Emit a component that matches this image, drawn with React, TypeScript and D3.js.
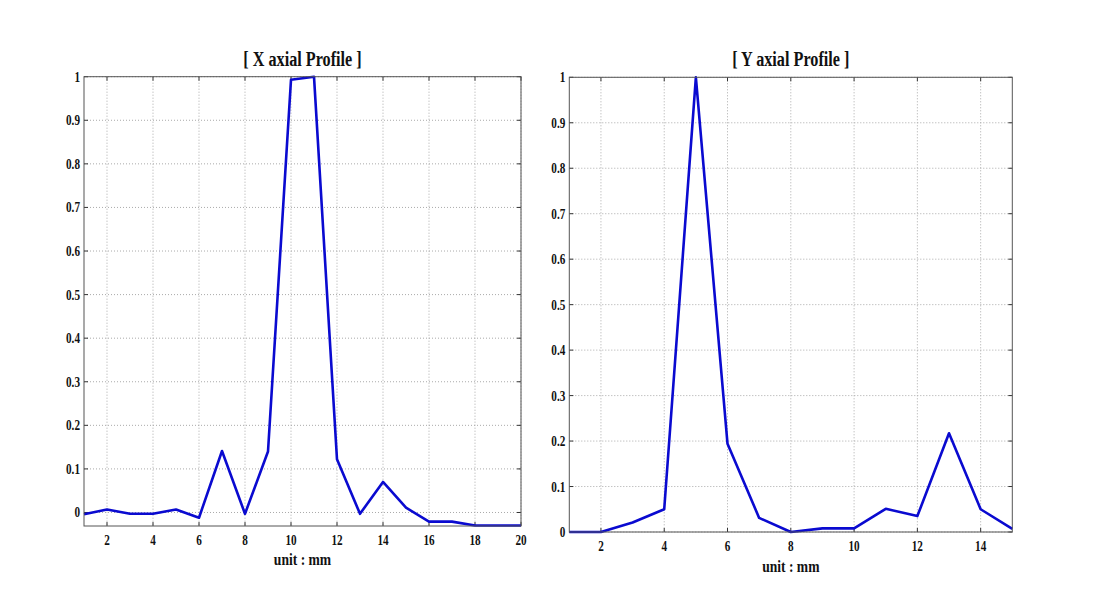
import { useEffect, useRef } from "react";
import * as d3 from "d3";

// X axial profile (unit: mm)
const xProfileMm = [1, 2, 3, 4, 5, 6, 7, 8, 9, 10, 11, 12, 13, 14, 15, 16, 17, 18, 19, 20];
const xProfileValues = [
  -0.004, 0.007, -0.003, -0.003, 0.007, -0.012, 0.141, -0.003, 0.14, 0.993,
  1.0, 0.122, -0.003, 0.07, 0.011, -0.021, -0.021, -0.03, -0.03, -0.03,
];

// Y axial profile (unit: mm)
const yProfileMm = [1, 2, 3, 4, 5, 6, 7, 8, 9, 10, 11, 12, 13, 14, 15];
const yProfileValues = [
  0, 0, 0.021, 0.05, 1.0, 0.194, 0.031, 0, 0.008, 0.008, 0.051, 0.035, 0.217, 0.05, 0.007,
];

const xTicksLeft = [2, 4, 6, 8, 10, 12, 14, 16, 18, 20];
const xTicksRight = [2, 4, 6, 8, 10, 12, 14];
const yTicks = [0, 0.1, 0.2, 0.3, 0.4, 0.5, 0.6, 0.7, 0.8, 0.9, 1];

const FONT = "'Liberation Serif', 'Times New Roman', serif";

const drawPanel = (svg, opts) => {
  const { left, right, top, bottom, xDomain, yDomain, xs, ys, xTicks, title, titleY, xTickY, xLabelY } = opts;
  const x = d3.scaleLinear().domain(xDomain).range([left, right]);
  const y = d3.scaleLinear().domain(yDomain).range([bottom, top]);
  const g = svg.append("g");

  g.append("rect")
    .attr("x", left)
    .attr("y", top)
    .attr("width", right - left)
    .attr("height", bottom - top)
    .attr("fill", "#fff");

  // dotted grid
  g.selectAll(".gx")
    .data(xTicks)
    .enter()
    .append("line")
    .attr("x1", (d) => x(d))
    .attr("x2", (d) => x(d))
    .attr("y1", top)
    .attr("y2", bottom)
    .attr("stroke", "#aaa")
    .attr("stroke-width", 1)
    .attr("stroke-dasharray", "1,2");
  g.selectAll(".gy")
    .data(yTicks.filter((d) => d >= yDomain[0]))
    .enter()
    .append("line")
    .attr("x1", left)
    .attr("x2", right)
    .attr("y1", (d) => y(d))
    .attr("y2", (d) => y(d))
    .attr("stroke", "#aaa")
    .attr("stroke-width", 1)
    .attr("stroke-dasharray", "1,2");

  // inward ticks
  const tl = 4;
  xTicks.forEach((d) => {
    g.append("line").attr("x1", x(d)).attr("x2", x(d)).attr("y1", bottom).attr("y2", bottom - tl).attr("stroke", "#333");
    g.append("line").attr("x1", x(d)).attr("x2", x(d)).attr("y1", top).attr("y2", top + tl).attr("stroke", "#333");
  });
  yTicks.forEach((d) => {
    g.append("line").attr("x1", left).attr("x2", left + tl).attr("y1", y(d)).attr("y2", y(d)).attr("stroke", "#333");
    g.append("line").attr("x1", right).attr("x2", right - tl).attr("y1", y(d)).attr("y2", y(d)).attr("stroke", "#333");
  });

  const line = d3
    .line()
    .x((d) => x(d[0]))
    .y((d) => y(d[1]));
  g.append("path")
    .datum(xs.map((v, i) => [v, ys[i]]))
    .attr("d", line)
    .attr("fill", "none")
    .attr("stroke", "#0a0ad0")
    .attr("stroke-width", 2.6)
    .attr("stroke-linejoin", "round");

  // box
  g.append("rect")
    .attr("x", left)
    .attr("y", top)
    .attr("width", right - left)
    .attr("height", bottom - top)
    .attr("fill", "none")
    .attr("stroke", "#555")
    .attr("stroke-width", 1);

  // Matlab-style condensed bold serif text
  const label = (tx, ty, text, size, anchor, sx) => {
    g.append("text")
      .attr("transform", `translate(${tx},${ty}) scale(${sx},1)`)
      .attr("text-anchor", anchor)
      .style("font-family", FONT)
      .style("font-weight", "bold")
      .style("font-size", `${size}px`)
      .attr("fill", "#111")
      .text(text);
  };

  xTicks.forEach((d) => label(x(d), xTickY, String(d), 14, "middle", 0.8));
  yTicks.forEach((d) => label(left - 4, y(d) + 5, String(d), 14, "end", 0.8));
  label((left + right) / 2, titleY, title, 20, "middle", 0.81);
  label((left + right) / 2, xLabelY, "unit : mm", 17, "middle", 0.8);
};

const App = () => {
  const ref = useRef(null);

  useEffect(() => {
    if (!ref.current) return;
    const svg = d3.select(ref.current);
    svg.selectAll("*").remove();

    drawPanel(svg, {
      left: 84,
      right: 521,
      top: 76.7,
      bottom: 526,
      xDomain: [1, 20],
      yDomain: [-0.031, 1],
      xs: xProfileMm,
      ys: xProfileValues,
      xTicks: xTicksLeft,
      title: "[ X axial Profile ]",
      titleY: 66,
      xTickY: 544.5,
      xLabelY: 564.5,
    });

    drawPanel(svg, {
      left: 569.3,
      right: 1012.3,
      top: 77.3,
      bottom: 532,
      xDomain: [1, 15],
      yDomain: [0, 1],
      xs: yProfileMm,
      ys: yProfileValues,
      xTicks: xTicksRight,
      title: "[ Y axial Profile ]",
      titleY: 66,
      xTickY: 550.7,
      xLabelY: 571.7,
    });
  }, []);

  return (
    <svg
      ref={ref}
      width={1093}
      height={595}
      style={{ position: "absolute", left: 0, top: 0, background: "#fff" }}
    />
  );
};

export default App;
